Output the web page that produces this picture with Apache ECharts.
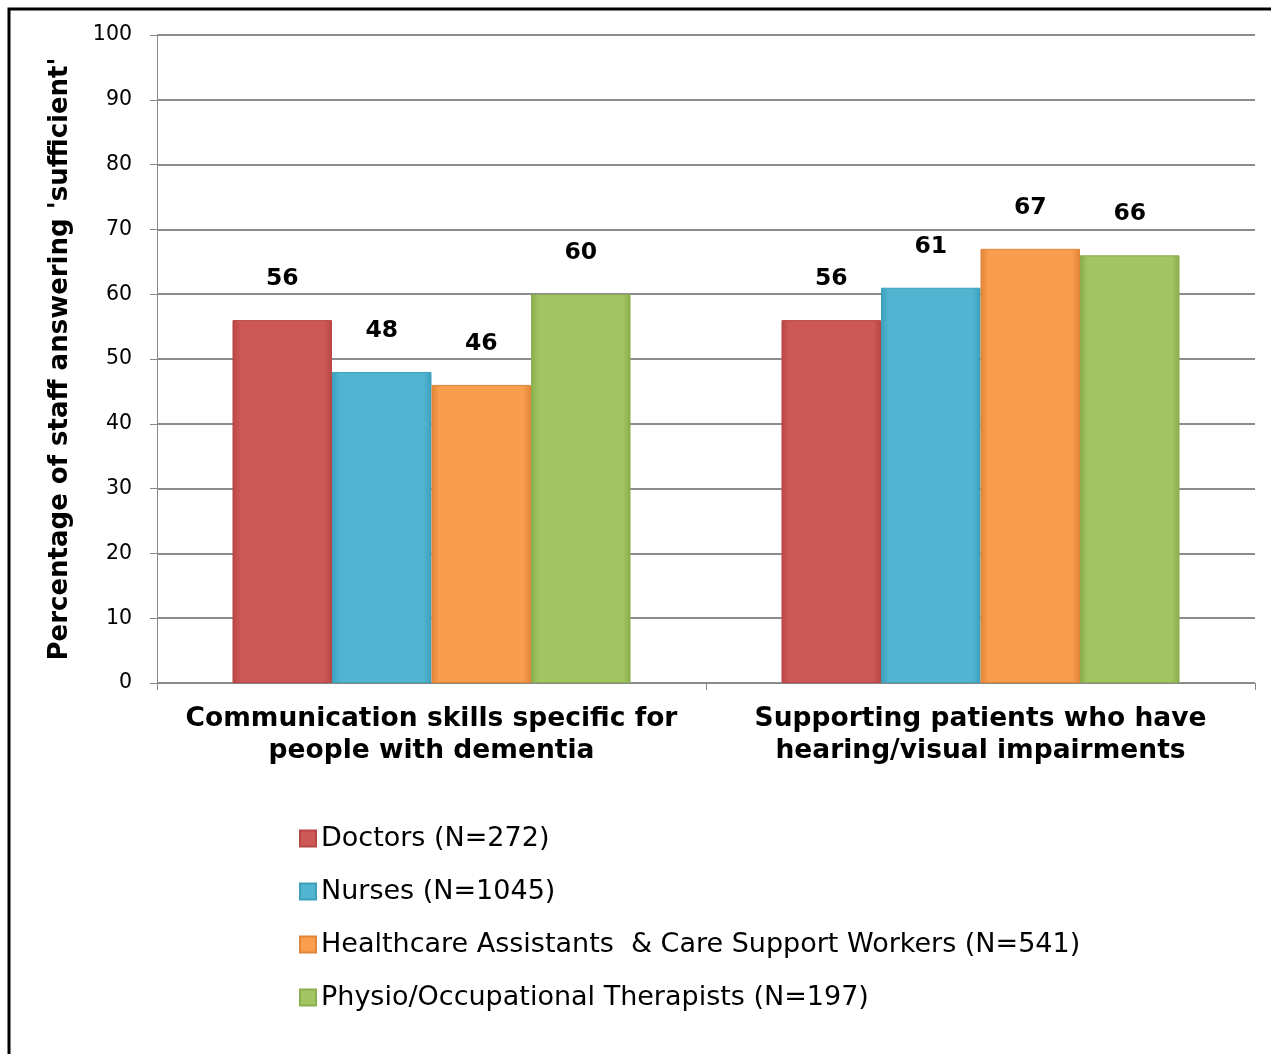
<!DOCTYPE html>
<html>
<head>
<meta charset="utf-8">
<script src="https://cdn.jsdelivr.net/npm/echarts@6/dist/echarts.min.js"></script>
<style>
html,body{margin:0;padding:0;background:#fff;}
#c{width:1271px;height:1054px;}
</style>
</head>
<body>
<div id="c"></div>
<script>
const categories = ['Communication skills specific for\npeople with dementia', 'Supporting patients who have\nhearing/visual impairments'];
const seriesNames = ['Doctors (N=272)', 'Nurses (N=1045)', 'Healthcare Assistants  & Care Support Workers (N=541)', 'Physio/Occupational Therapists (N=197)'];
const doctors = [56, 56];
const nurses = [48, 61];
const assistants = [46, 67];
const therapists = [60, 66];
const yTicks = [0, 10, 20, 30, 40, 50, 60, 70, 80, 90, 100];

const colors = [
  ['#e0716e', '#cd5856', '#b84744'],
  ['#6cc9e3', '#51b5d2', '#3c9fbc'],
  ['#ffb26a', '#f99e4d', '#e0853a'],
  ['#b6d676', '#a3c663', '#8aad4d']
];
const values = [doctors, nurses, assistants, therapists];
const FONT = '"DejaVu Sans", Verdana, sans-serif';

const series = seriesNames.map((name, i) => ({
  name: name,
  type: 'bar',
  data: values[i],
  barGap: '0%',
  barCategoryGap: '27.5%',
  itemStyle: {
    color: {
      type: 'linear', x: 0, y: 0, x2: 1, y2: 0,
      colorStops: [
        {offset: 0, color: colors[i][2]},
        {offset: 0.08, color: colors[i][1]},
        {offset: 0.92, color: colors[i][1]},
        {offset: 1, color: colors[i][2]}
      ]
    },
    borderColor: colors[i][2],
    borderWidth: 1
  },
  label: {
    show: true,
    position: 'top',
    distance: 29,
    fontFamily: FONT,
    fontWeight: 'bold',
    fontSize: 23.5,
    color: '#000'
  }
}));

const chart = echarts.init(document.getElementById('c'));
chart.setOption({
  animation: false,
  backgroundColor: '#fff',
  graphic: [{
    type: 'rect',
    shape: {x: 9, y: 9, width: 1300, height: 1100},
    style: {fill: 'none', stroke: '#000', lineWidth: 3},
    z: -10
  }],
  grid: {left: 157, right: 16, top: 35, bottom: 371},
  legend: {
    orient: 'vertical',
    left: 294,
    top: 820,
    itemWidth: 16,
    itemHeight: 16,
    itemGap: 26,
    icon: 'rect',
    textStyle: {fontFamily: FONT, fontSize: 27, color: '#000'},
    data: seriesNames
  },
  xAxis: {
    type: 'category',
    data: categories,
    axisLine: {lineStyle: {color: '#888', width: 1}},
    axisTick: {show: true, length: 7, lineStyle: {color: '#888'}},
    axisLabel: {
      interval: 0,
      fontFamily: FONT, fontWeight: 'bold', fontSize: 26.5, color: '#000',
      margin: 20, lineHeight: 32
    }
  },
  yAxis: {
    type: 'value',
    min: 0, max: 100, interval: 10,
    name: "Percentage of staff answering 'sufficient'",
    nameLocation: 'middle',
    nameGap: 84,
    nameTextStyle: {fontFamily: FONT, fontWeight: 'bold', fontSize: 26, color: '#000'},
    axisLine: {show: true, lineStyle: {color: '#888', width: 1}},
    axisTick: {show: true, inside: false, length: 7, lineStyle: {color: '#888'}},
    axisLabel: {
      fontFamily: FONT, fontSize: 20.5, color: '#000', margin: 25,
      formatter: v => yTicks.includes(v) ? String(v) : ''
    },
    splitLine: {show: true, lineStyle: {color: '#8c8c8c', width: 2}}
  },
  series: series
});
</script>
</body>
</html>
